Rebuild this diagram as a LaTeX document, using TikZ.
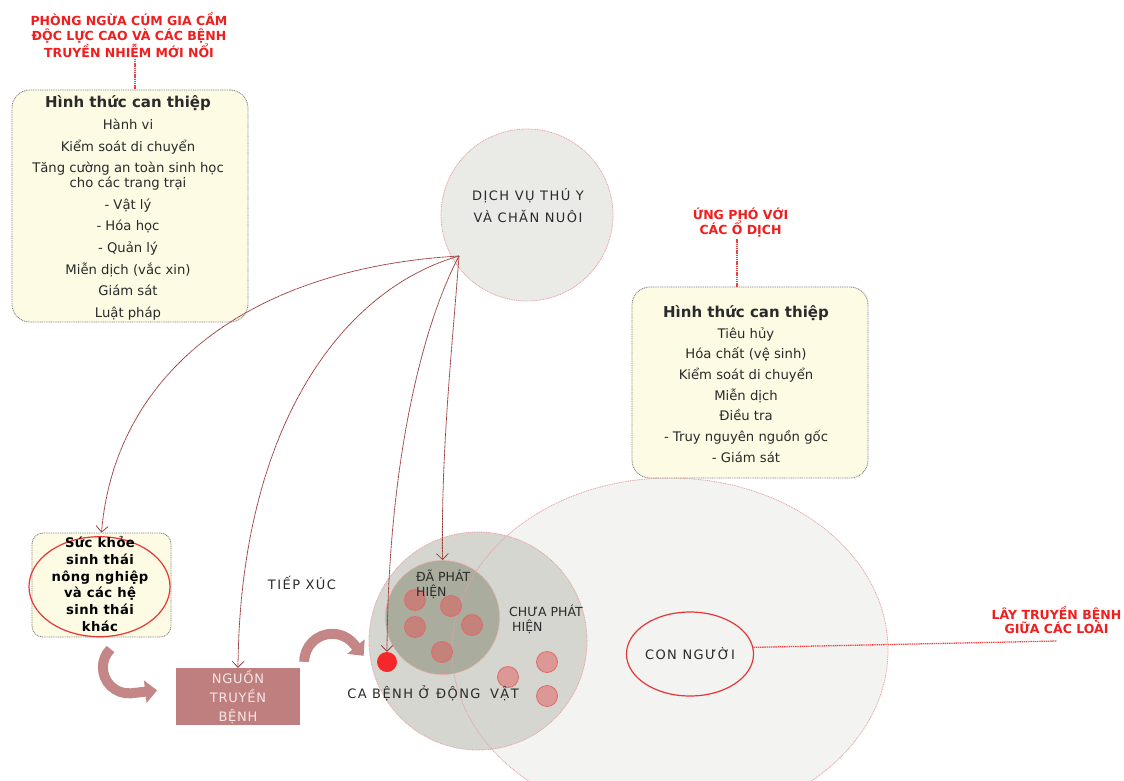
\documentclass[tikz,border=0pt]{standalone}
\usepackage{fontspec}
\setmainfont{DejaVu Sans}
\newfontfamily\widecaps[LetterSpace=11]{DejaVu Sans}
\newfontfamily\softcaps[LetterSpace=6]{DejaVu Sans}
\newfontfamily\boldwide[LetterSpace=3]{DejaVu Sans Bold}
\usetikzlibrary{arrows.meta,calc,shapes.geometric}

\definecolor{cream}{HTML}{FDFBE4}
\definecolor{panelline}{HTML}{7F7F7F}
\definecolor{alertred}{HTML}{F01E1E}
\definecolor{inkgrey}{HTML}{2A2A2A}
\definecolor{vetfill}{HTML}{EAEAE7}
\definecolor{rimpink}{HTML}{E6A3A3}
\definecolor{humanfill}{HTML}{F3F3F1}
\definecolor{casefill}{HTML}{D5D6CF}
\definecolor{foundfill}{HTML}{AAAC9D}
\definecolor{spotred}{HTML}{E35555}
\definecolor{spotrim}{HTML}{E06A6A}
\definecolor{hotred}{HTML}{F42828}
\definecolor{sourcefill}{HTML}{C07F7F}
\definecolor{sourcetext}{HTML}{F7E6E6}
\definecolor{bigarrow}{HTML}{C48686}
\definecolor{linkred}{HTML}{9E4040}
\definecolor{ringred}{HTML}{E63636}

\begin{document}
\begin{tikzpicture}[x=1pt,y=-1pt,
  panel/.style={draw=panelline, line width=0.8pt, dash pattern=on 1pt off 0.8pt,
                fill=cream, rounded corners=18pt, inner sep=0},
  bodytext/.style={inner sep=0, align=center, text=inkgrey,
                   font=\fontsize{13.2}{21.6}\selectfont},
  alert/.style={inner sep=0, align=center, text=alertred,
                font=\bfseries\fontsize{12.5}{14.6}\selectfont},
  alertlink/.style={draw=alertred!85, line width=1.3pt, dash pattern=on 1.4pt off 0.8pt},
  caps/.style={inner sep=0, text=inkgrey, font=\widecaps\fontsize{13}{20}\selectfont},
  plaincaps/.style={inner sep=0, text=inkgrey, align=left,
                    font=\fontsize{12.5}{15}\selectfont},
  rim/.style={draw=rimpink, line width=0.8pt, dash pattern=on 1pt off 0.8pt},
  spot/.style={circle, inner sep=0, minimum size=21pt, fill=spotred, fill opacity=0.48,
               draw=spotrim, line width=0.8pt},
  link/.style={draw=linkred, line width=0.8pt, dash pattern=on 1.2pt off 0.4pt,
               -{Straight Barb[length=6pt,width=12pt]}},
  fat/.style={draw=bigarrow, line width=10pt, -{Triangle[length=12pt,width=22pt]}},
]
\useasboundingbox (0,0) rectangle (1124,780);

% species region, animal cases and detected cases
\fill[humanfill] (670,650) ellipse [x radius=218, y radius=172];
\node[circle, minimum size=218pt, inner sep=0, fill=casefill, rim] (case) at (478,641) {};
\node[circle, minimum size=114pt, inner sep=0, fill=foundfill, rim] (found) at (442.5,617.5) {};
\draw[rim] (670,650) ellipse [x radius=218, y radius=172];

\foreach \px/\py [count=\i] in {415/600, 451/606, 415/627, 472/625, 442/652,
                                 508/677, 547/662, 547/696}
  \node[spot] (s\i) at (\px,\py) {};
\node[circle, inner sep=0, minimum size=20pt, fill=hotred] (rd) at (387,662) {};

\node[ellipse, minimum width=114pt, minimum height=84pt, inner sep=0, fill=humanfill,
      draw=ringred, line width=1.2pt, caps] (cn) at (690,654) {CON NGƯỜI};

% prevention panel
\node[panel, minimum width=236pt, minimum height=232pt] (pbox) at (130,206) {};
\node[bodytext] (ptext) at (128,208) {%
  {\bfseries\fontsize{15}{21.6}\selectfont Hình thức can thiệp}\\
  Hành vi\\
  Kiểm soát di chuyển\\
  Tăng cường an toàn sinh học\\[-6.6pt]
  cho các trang trại\\
  - Vật lý\\
  - Hóa học\\
  - Quản lý\\
  Miễn dịch (vắc xin)\\
  Giám sát\\
  Luật pháp};
\node[alert] (ptitle) at (129,35) {PHÒNG NGỪA CÚM GIA CẦM\\ĐỘC LỰC CAO VÀ CÁC BỆNH\\TRUYỀN NHIỄM MỚI NỔI};
\draw[alertlink] ($(ptitle.south)+(6,1)$) -- ($(pbox.north)+(5,0)$);

% response panel
\node[panel, minimum width=236pt, minimum height=191pt] (rbox) at (750,382.5) {};
\node[bodytext, font=\fontsize{13.2}{20.7}\selectfont] (rtext) at (746,384) {%
  {\bfseries\fontsize{15}{20.7}\selectfont Hình thức can thiệp}\\
  Tiêu hủy\\
  Hóa chất (vệ sinh)\\
  Kiểm soát di chuyển\\
  Miễn dịch\\
  Điều tra\\
  - Truy nguyên nguồn gốc\\
  - Giám sát};
\node[alert] (rtitle) at (740.5,222.5) {ỨNG PHÓ VỚI\\CÁC Ổ DỊCH};
\draw[alertlink] ($(rtitle.south)+(-3.5,2)$) -- ($(rbox.north)+(-13,0)$);

% veterinary services
\node[circle, minimum size=172pt, inner sep=0, fill=vetfill, rim] (dv) at (527,215) {};
\node[caps, align=center, font=\widecaps\fontsize{13}{22}\selectfont] (dvt) at (528,206)
  {DỊCH VỤ THÚ Y\\VÀ CHĂN NUÔI};

% agro-ecosystem health
\node[panel, rounded corners=11pt, minimum width=139pt, minimum height=104pt] (sk) at (101.5,585) {};
\draw[ringred, line width=1.2pt] (99.5,586.7) ellipse [x radius=70.5, y radius=50];
\node[inner sep=0, align=center, text=black, font=\boldwide\fontsize{13.2}{16.8}\selectfont]
  (skt) at (100,584) {Sức khỏe\\sinh thái\\nông nghiệp\\và các hệ\\sinh thái\\khác};

% source of infection
\node[fill=sourcefill, minimum width=124pt, minimum height=57pt, inner sep=0, align=center,
      text=sourcetext, font=\softcaps\fontsize{13}{19}\selectfont] (ng) at (238,696.5)
  {NGUỒN\\TRUYỀN\\BỆNH};

% labels
\node[caps] (tx) at (302,583) {TIẾP XÚC};
\node[caps] (cab) at (433,693) {CA BỆNH Ở ĐỘNG\hspace{4pt} VẬT};
\node[plaincaps, anchor=west] (fd) at (416,584) {ĐÃ PHÁT\\HIỆN};
\node[plaincaps, anchor=west] (nf) at (509,619.5) {CHƯA PHÁT\\\hspace*{3pt}HIỆN};

% cross-species transmission
\coordinate (sp) at (1057,641);
\draw[alertlink] (cn.6) -- (sp);
\node[alert] (spt) at (1056.5,620) {LÂY TRUYỀN BỆNH\\GIỮA CÁC LOÀI};

% links from veterinary services
\coordinate (hub) at (459,256);
\draw[link] (hub) .. controls (250,268) and (115,372) .. (sk.north);
\draw[link] (hub) .. controls (340,290) and (240,430) .. (ng.north);
\draw[link] (hub) .. controls (420,330) and (388,470) .. (rd.north);
\draw[link] (hub) .. controls (452,350) and (441,450) .. (found.north);

% transmission cycle arrows
\draw[fat] ($(sk.south)+(9,11.6)$) arc [start angle=225, end angle=85, radius=26] -- ++(26,-3);
\draw[fat] ($(ng.north east)+(4,-6)$) arc [start angle=180, end angle=320, radius=28] -- ++(10,12);
\end{tikzpicture}
\end{document}
